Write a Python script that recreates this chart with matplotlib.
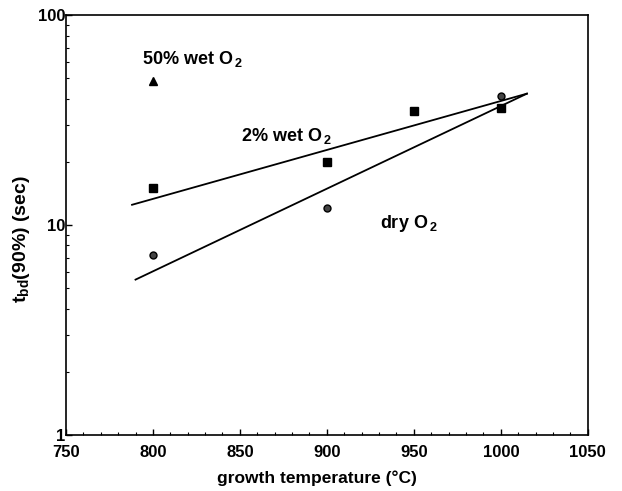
import matplotlib.pyplot as plt
from matplotlib.ticker import FixedLocator, NullFormatter

plt.rcParams.update({
    "font.family": "Liberation Sans",
    "font.weight": "bold",
    "axes.labelweight": "bold",
    "mathtext.fontset": "custom",
    "mathtext.rm": "Liberation Sans:bold",
    "mathtext.it": "Liberation Sans:bold",
    "mathtext.bf": "Liberation Sans:bold",
    "mathtext.default": "rm",
})

# data
temp_dry = [800, 900, 1000]
tbd_dry = [7.2, 12.1, 41.0]

temp_wet2 = [800, 900, 950, 1000]
tbd_wet2 = [15.0, 20.0, 34.8, 36.2]

temp_wet50 = [800]
tbd_wet50 = [48.7]

# fitted lines (end points)
fit_wet2_x = [788, 1015]
fit_wet2_y = [12.5, 42.3]
fit_dry_x = [790, 1015]
fit_dry_y = [5.5, 42.3]

fig = plt.figure(figsize=(6.22, 4.91), dpi=100)
ax = fig.add_axes([0.106, 0.114, 0.839, 0.855])

ax.plot(fit_wet2_x, fit_wet2_y, color='black', lw=1.3)
ax.plot(fit_dry_x, fit_dry_y, color='black', lw=1.3)

ax.plot(temp_wet2, tbd_wet2, 's', color='black', ms=6)
ax.plot(temp_dry, tbd_dry, 'o', mfc='#444444', mec='black', ms=5)
ax.plot(temp_wet50, tbd_wet50, '^', color='black', ms=5.5)

ax.set_yscale('log')
ax.set_xlim(750, 1050)
ax.set_ylim(1, 100)
ax.set_xticks([750, 800, 850, 900, 950, 1000, 1050])
ax.xaxis.set_minor_locator(FixedLocator(range(750, 1051, 10)))
ax.set_yticks([1, 10, 100])
ax.set_yticklabels(['1', '10', '100'])
ax.yaxis.set_minor_formatter(NullFormatter())

ax.tick_params(which='both', direction='in', top=False, right=False, labelsize=12)
ax.tick_params(which='major', length=4, width=1)
ax.tick_params(which='minor', length=2.5, width=0.8)
ax.tick_params(axis='x', which='major', pad=7)
ax.tick_params(axis='y', which='major', pad=0.5)
for s in ax.spines.values():
    s.set_linewidth(1.2)

ax.set_xlabel('growth temperature (°C)', fontsize=12.5, labelpad=8)
ax.set_ylabel(r'$t_{bd}$(90%) (sec)', fontsize=14, labelpad=4)
ax.xaxis.label.set_x(0.481)
ax.yaxis.label.set_y(0.467)

ax.text(142, 59, r'50% wet O$_{\,2}$', fontsize=13, ha='left', va='center')
ax.text(241, 136, r'2% wet O$_{\,2}$', fontsize=13, ha='left', va='center')
ax.text(380, 223, r'dry O$_{\,2}$', fontsize=13, ha='left', va='center')

# place the annotation texts by pixel position of the reference
for t in ax.texts:
    px, py = t.get_position()
    t.set_transform(fig.transFigure)
    t.set_position((px / 622, 1 - py / 491))

fig.savefig('out.png', dpi=100)
